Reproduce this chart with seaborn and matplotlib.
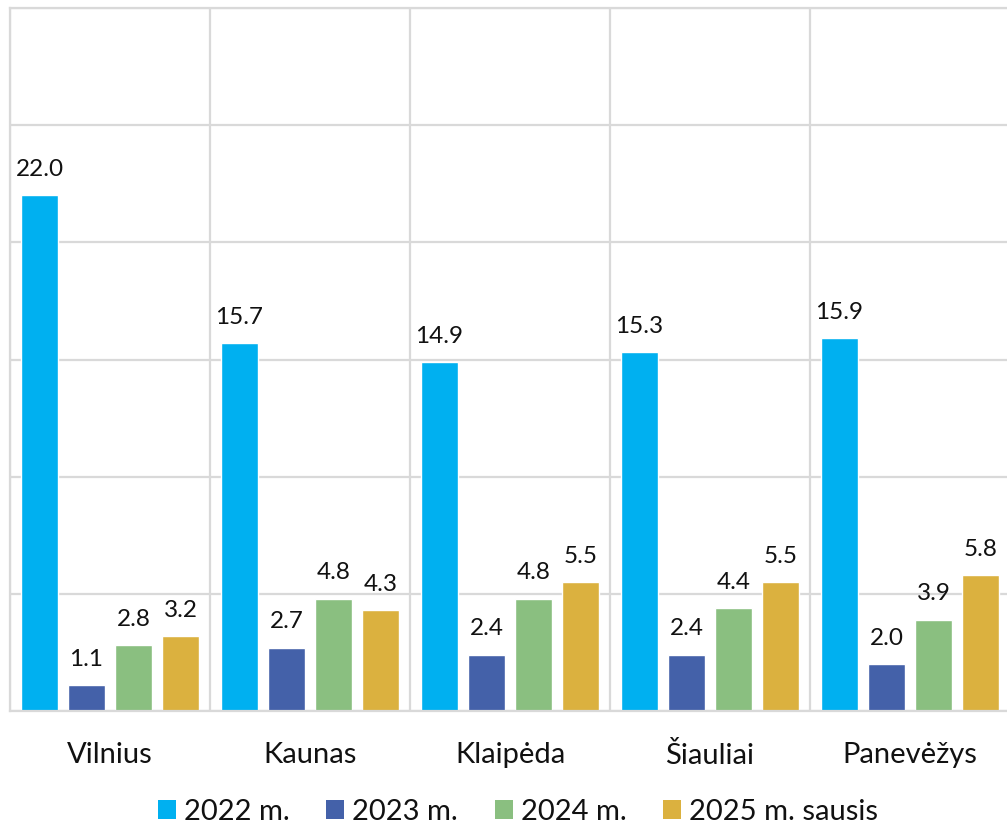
import matplotlib
matplotlib.use("Agg")
import matplotlib.pyplot as plt
import seaborn as sns
import pandas as pd
from matplotlib.patches import Patch

cities = ["Vilnius", "Kaunas", "Klaipėda", "Šiauliai", "Panevėžys"]
series_names = ["2022 m.", "2023 m.", "2024 m.", "2025 m. sausis"]
v2022 = [22.0, 15.7, 14.9, 15.3, 15.9]
v2023 = [1.1, 2.7, 2.4, 2.4, 2.0]
v2024 = [2.8, 4.8, 4.8, 4.4, 3.9]
v2025 = [3.2, 4.3, 5.5, 5.5, 5.8]
colors = ["#00B0F0", "#4461A9", "#8ABF80", "#DBB13F"]

rows = []
for name, vals in zip(series_names, [v2022, v2023, v2024, v2025]):
    for c, v in zip(cities, vals):
        rows.append({"city": c, "series": name, "value": v})
df = pd.DataFrame(rows)

sns.set_theme(style="white")
plt.rcParams["font.family"] = ["Lato", "DejaVu Sans"]

W, H = 1007, 827
fig = plt.figure(figsize=(W / 100, H / 100), dpi=100)
ax = fig.add_axes([10 / W, (H - 711) / H, 1000 / W, (711 - 8) / H])

sns.barplot(data=df, x="city", y="value", hue="series", palette=colors,
            order=cities, hue_order=series_names, width=0.94, gap=0.21,
            saturation=1, ax=ax, legend=False)

for cont in ax.containers:
    ax.bar_label(cont, fmt="%.1f", padding=11, fontsize=17.5, color="#111111")

ax.set_xlim(-0.5, 4.5)
ax.set_ylim(0, 30)
ax.set_yticks(range(0, 31, 5))
ax.set_yticklabels([])
ax.set_xticks([i - 0.5 for i in range(6)], minor=True)
ax.grid(True, which="major", axis="y", color="#D9D9D9", linewidth=1.6)
ax.grid(True, which="minor", axis="x", color="#D9D9D9", linewidth=1.6)
ax.grid(False, which="major", axis="x")
ax.set_axisbelow(True)
for s in ["left", "top", "bottom", "right"]:
    ax.spines[s].set_color("#D9D9D9")
    ax.spines[s].set_linewidth(1.6)
ax.tick_params(axis="both", which="both", length=0)
ax.tick_params(axis="x", which="major", pad=22, labelsize=21, labelcolor="#111111")
ax.set_xlabel("")
ax.set_ylabel("")

handles = [Patch(facecolor=c, edgecolor="none") for c in colors]
fig.legend(handles, series_names, loc="center", ncol=4,
           bbox_to_anchor=(518 / W, 1 - 812 / H), frameon=False,
           fontsize=21, handlelength=0.62, handleheight=0.62,
           handletextpad=0.28, columnspacing=1.25, labelcolor="#111111")

fig.savefig("out.png", dpi=100)
